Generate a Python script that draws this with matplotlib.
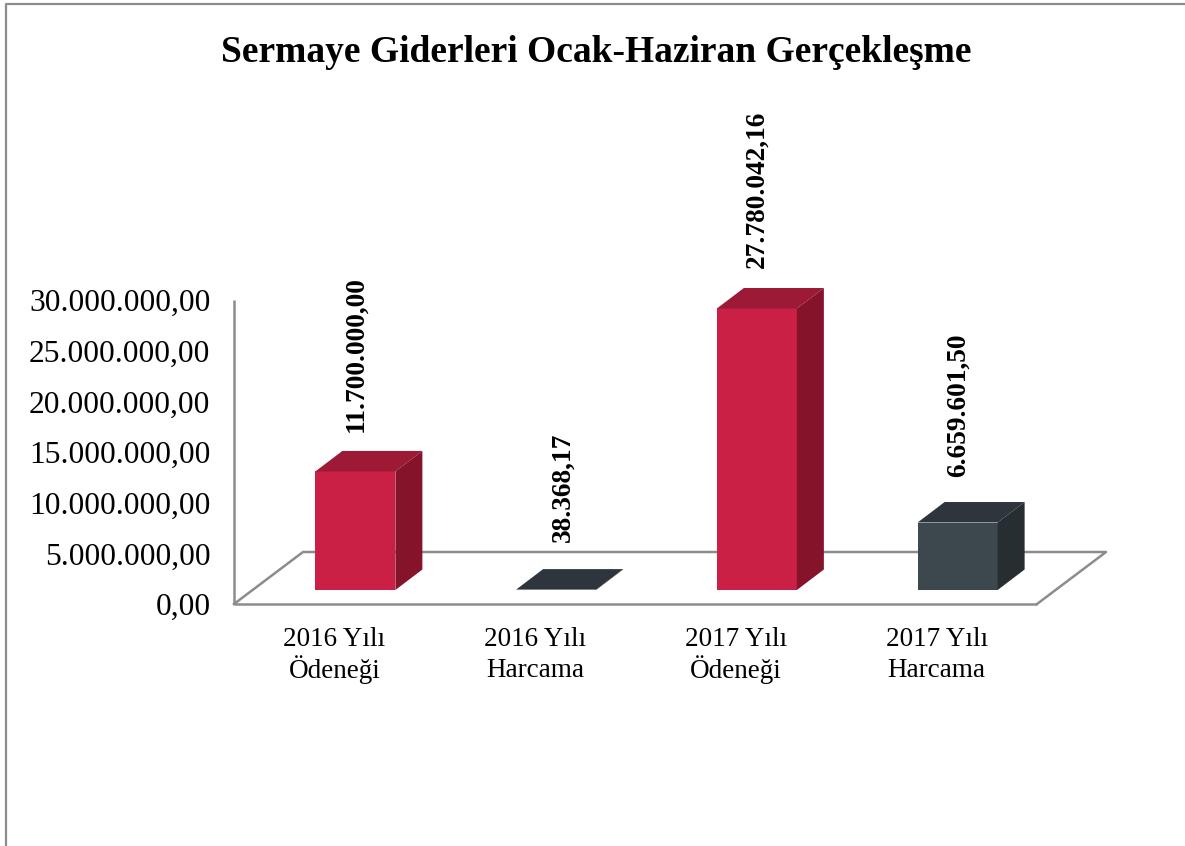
import matplotlib
matplotlib.use("Agg")
import matplotlib.pyplot as plt
from matplotlib.lines import Line2D
from matplotlib.patches import Polygon

plt.rcParams["font.family"] = ["Liberation Serif", "DejaVu Serif"]

title = "Sermaye Giderleri Ocak-Haziran Gerçekleşme"
categories = ["2016 Yılı\nÖdeneği", "2016 Yılı\nHarcama", "2017 Yılı\nÖdeneği", "2017 Yılı\nHarcama"]
values = [11700000.00, 38368.17, 27780042.16, 6659601.50]
value_labels = ["11.700.000,00", "38.368,17", "27.780.042,16", "6.659.601,50"]
y_ticks = [0, 5000000, 10000000, 15000000, 20000000, 25000000, 30000000]
y_tick_labels = ["0,00", "5.000.000,00", "10.000.000,00", "15.000.000,00",
                 "20.000.000,00", "25.000.000,00", "30.000.000,00"]

# front, top, side colours for each bar
red = ("#CB2045", "#9C1A35", "#85142B")
dark = ("#3D484E", "#2E353C", "#262E31")
bar_colors = [red, dark, red, dark]
label_pads = [19, 27, 20, 25]
label_shift = [1, 7, 0, 1]

W, H = 1185, 846
fig = plt.figure(figsize=(W / 100, H / 100), dpi=100, facecolor="white")
# plot area = front floor edge and value axis, in pixels
left, right, top, bottom = 234, 1037, 300, 604
ax = fig.add_axes([left / W, 1 - bottom / H, (right - left) / W, (bottom - top) / H])
ax.set_xlim(0, 4)
ax.set_ylim(0, 30000000)
ax.patch.set_alpha(0)

px_x = 4 / (right - left)
px_y = 30000000 / (bottom - top)
pt = 0.72  # points per pixel at dpi 100
grey = "#8C8C8C"

for s in ["top", "right"]:
    ax.spines[s].set_visible(False)
for s in ["left", "bottom"]:
    ax.spines[s].set_color(grey)
    ax.spines[s].set_linewidth(1.8)
    ax.spines[s].set_capstyle("butt")

# floor of the 3D box
fx, fy = 69 * px_x, 52 * px_y
ax.plot([0, fx, 4 + fx, 4], [0, fy, fy, 0], color=grey, lw=1.8, clip_on=False, zorder=1)

# category labels, one text per line so both rows sit on fixed baselines
ax.set_xticks([i + 0.5 for i in range(4)])
ax.set_xticklabels([])
ax.tick_params(axis="x", length=0)
for i, cat in enumerate(categories):
    first, second = cat.split("\n")
    for line, py in ((first, 35), (second, 66)):
        ax.annotate(line, (i + 0.5, 0), xytext=(0, -py * pt), textcoords="offset points",
                    ha="center", va="center", fontsize=19.5, annotation_clip=False)

ax.set_yticks(y_ticks)
ax.set_yticklabels(y_tick_labels, fontsize=22.7)
ax.tick_params(axis="y", length=0, pad=17)

# bars: front face with bar(), top and side faces offset by the depth
bar_w = 80 * px_x
shift = 21 * px_x
base = 14 * px_y
dx, dy = 27 * px_x, 20.5 * px_y
for i, v in enumerate(values):
    c = bar_colors[i]
    x0 = i + 0.5 + shift - bar_w / 2
    x1 = x0 + bar_w
    y0, y1 = base, base + v
    ax.bar(x0, v, width=bar_w, bottom=base, align="edge", color=c[0], zorder=3, clip_on=False)
    ax.add_patch(Polygon([(x0, y1), (x0 + dx, y1 + dy), (x1 + dx, y1 + dy), (x1, y1)],
                         facecolor=c[1], edgecolor="none", zorder=3, clip_on=False))
    ax.add_patch(Polygon([(x1, y0), (x1 + dx, y0 + dy), (x1 + dx, y1 + dy), (x1, y1)],
                         facecolor=c[2], edgecolor="none", zorder=3, clip_on=False))
    ax.annotate(value_labels[i], (x0 + bar_w / 2, y1 + dy),
                xytext=(label_shift[i] * pt, label_pads[i] * pt),
                textcoords="offset points", rotation=90, ha="center", va="bottom",
                fontsize=19.7, fontweight="bold", annotation_clip=False)

fig.text(596 / W, 1 - 52 / H, title, fontsize=27, fontweight="bold", ha="center", va="center")

# outer chart frame, cut off by the picture on the right and bottom
fig.add_artist(Line2D([6 / W, 6 / W, 1], [0, 1 - 4 / H, 1 - 4 / H], color=grey, lw=1.6))

fig.savefig("out.png", dpi=100)
